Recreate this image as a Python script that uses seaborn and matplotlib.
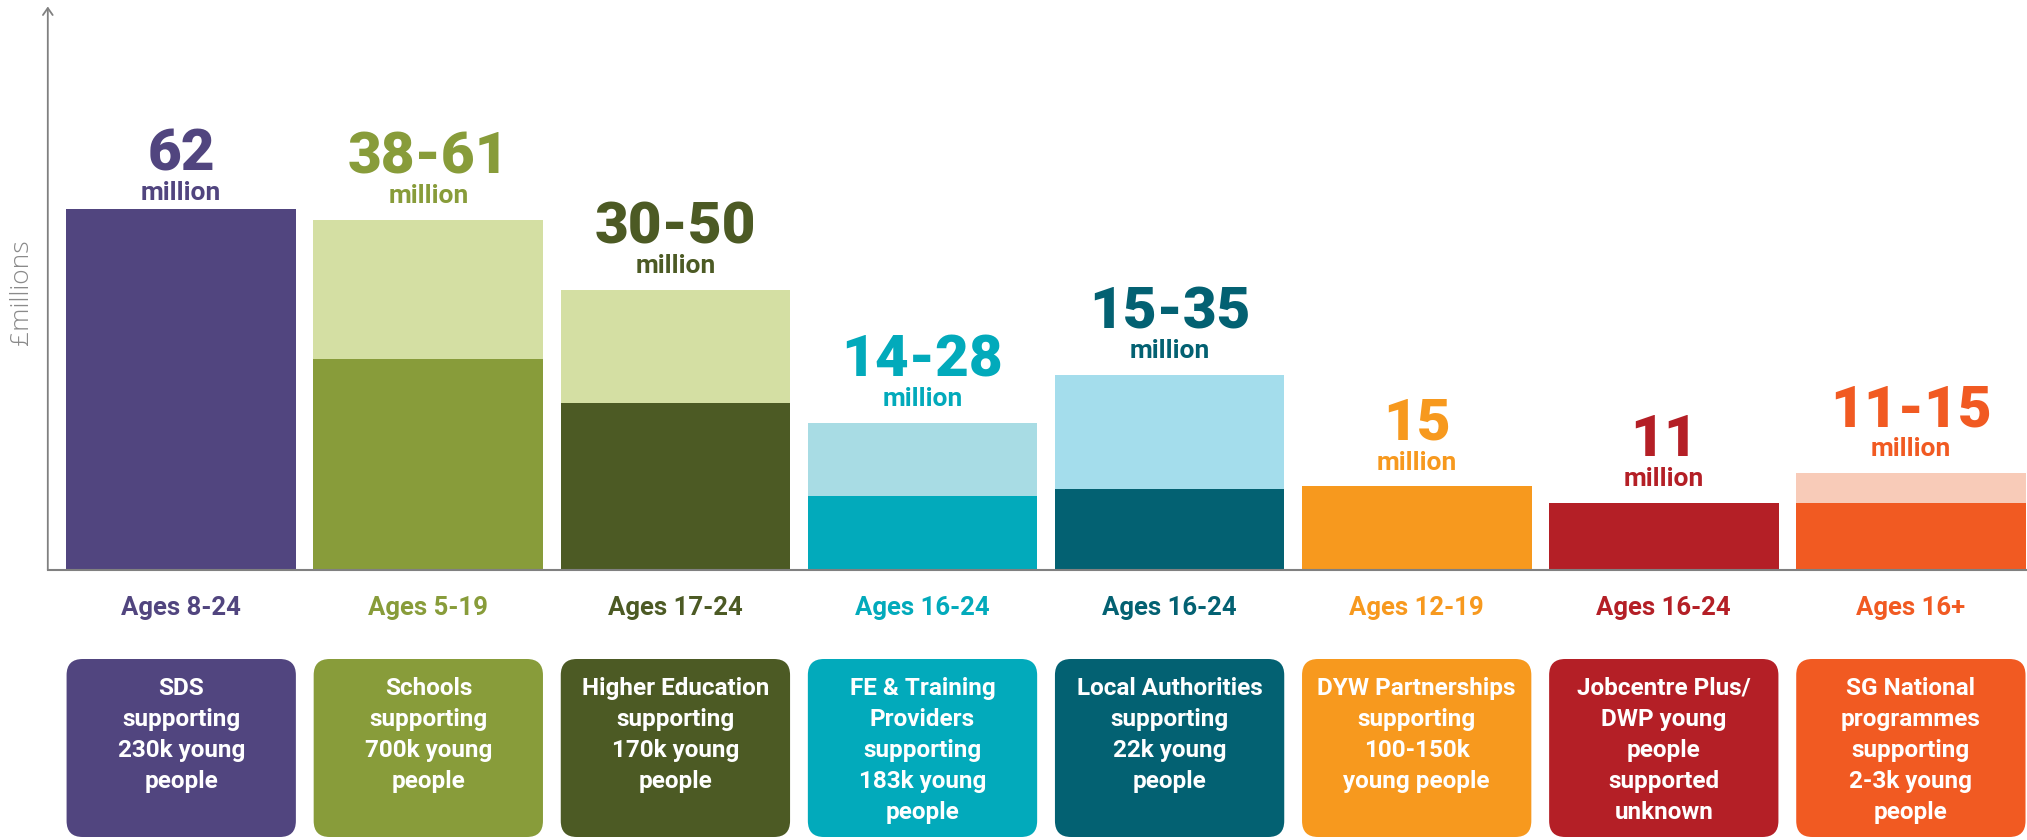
import matplotlib
matplotlib.use("Agg")
import matplotlib.pyplot as plt
from matplotlib.patches import FancyBboxPatch
import seaborn as sns

# ---- data ----
categories = ["SDS", "Schools", "Higher Education", "FE & Training Providers",
              "Local Authorities", "DYW Partnerships", "Jobcentre Plus/DWP",
              "SG National programmes"]
low_values = [62, 36.2, 28.7, 12.7, 14.0, 14.4, 11.6, 11.6]
high_values = [62, 60.2, 48.2, 25.3, 33.6, 14.4, 11.6, 16.7]
value_labels = ["62", "38-61", "30-50", "14-28", "15-35", "15", "11", "11-15"]
age_labels = ["Ages 8-24", "Ages 5-19", "Ages 17-24", "Ages 16-24",
              "Ages 16-24", "Ages 12-19", "Ages 16-24", "Ages 16+"]
box_texts = [
    "SDS\nsupporting\n230k young\npeople",
    "Schools\nsupporting\n700k young\npeople",
    "Higher Education\nsupporting\n170k young\npeople",
    "FE & Training\nProviders\nsupporting\n183k young\npeople",
    "Local Authorities\nsupporting\n22k young\npeople",
    "DYW Partnerships\nsupporting\n100-150k\nyoung people",
    "Jobcentre Plus/\nDWP young\npeople\nsupported\nunknown",
    "SG National\nprogrammes\nsupporting\n2-3k young\npeople",
]
dark_colors = ["#51457F", "#889C3A", "#4C5A24", "#02AABB",
               "#036172", "#F7991E", "#B41F26", "#F15A22"]
light_colors = ["#51457F", "#D4DFA3", "#D4DFA3", "#A8DCE4",
                "#A4DDEC", "#F7991E", "#B41F26", "#F8CBB8"]

sns.set_style("white")
plt.rcParams["font.family"] = ["Roboto", "DejaVu Sans"]

W, H = 2027, 840
fig = plt.figure(figsize=(W / 100, H / 100), dpi=100)
fig.patch.set_facecolor("white")

axis_x = 47.8
base_y = 570
top_y = 6.5
ax = fig.add_axes([axis_x / W, (H - base_y) / H, 1 - axis_x / W, (base_y - top_y) / H])

bar_w = 0.93
sns.barplot(x=categories, y=high_values, hue=categories, palette=light_colors,
            width=bar_w, saturation=1, legend=False, ax=ax, dodge=False,
            linewidth=0, edgecolor="none")
sns.barplot(x=categories, y=low_values, hue=categories, palette=dark_colors,
            width=bar_w, saturation=1, legend=False, ax=ax, dodge=False,
            linewidth=0, edgecolor="none")

ax.set_xlim(-0.54, 7.47)
ax.set_ylim(0, 96.9)
ax.set_xticks([])
ax.set_yticks([])
ax.set_xlabel("")
ax.set_ylabel("")
for s in ["top", "right", "left"]:
    ax.spines[s].set_visible(False)
ax.spines["bottom"].set_color("#808080")
ax.spines["bottom"].set_linewidth(1.5)
ax.annotate("", xy=(0, 1.0), xytext=(0, 0), xycoords="axes fraction",
            arrowprops=dict(arrowstyle="->,head_length=0.5,head_width=0.35",
                            color="#808080", lw=1.3, shrinkA=0, shrinkB=0),
            annotation_clip=False)

fig.text(22 / W, 1 - 292 / H, "£millions", rotation=90, ha="center", va="center",
         fontsize=19, color="#8a8a8a", family=["Open Sans", "DejaVu Sans"],
         fontweight="light")

for i, (hv, lab, col) in enumerate(zip(high_values, value_labels, dark_colors)):
    off = 12 if i == 0 else 17
    ax.annotate("million", xy=(i, hv), xytext=(0, off), textcoords="offset points",
                ha="center", va="center", fontsize=19, fontweight="bold",
                color=col, annotation_clip=False)
    ax.annotate(lab, xy=(i, hv), xytext=(0, off + 27.5), textcoords="offset points",
                ha="center", va="center", fontsize=42, fontweight="black",
                color=col, annotation_clip=False)

# lower panel with age labels and boxes
ax2 = fig.add_axes([axis_x / W, 0, 1 - axis_x / W, (H - base_y) / H])
ax2.set_xlim(-0.54, 7.47)
ax2.set_ylim(0, (H - base_y) / 247.0)
ax2.axis("off")

for i, (age, txt, col) in enumerate(zip(age_labels, box_texts, dark_colors)):
    ax2.text(i, (H - 608) / 247.0, age, ha="center", va="center", fontsize=18.5,
             fontweight="bold", color=col)
    box = FancyBboxPatch((i - bar_w / 2 + 0.001, (H - 837) / 247.0), bar_w - 0.002,
                         (837 - 659) / 247.0,
                         boxstyle="round,pad=0,rounding_size=0.065",
                         facecolor=col, edgecolor="none")
    ax2.add_patch(box)
    ax2.text(i, (H - 677) / 247.0, txt, ha="center", va="top", fontsize=17.5,
             fontweight="bold", color="white", linespacing=1.45)

fig.savefig("out.png", dpi=100, facecolor="white")
